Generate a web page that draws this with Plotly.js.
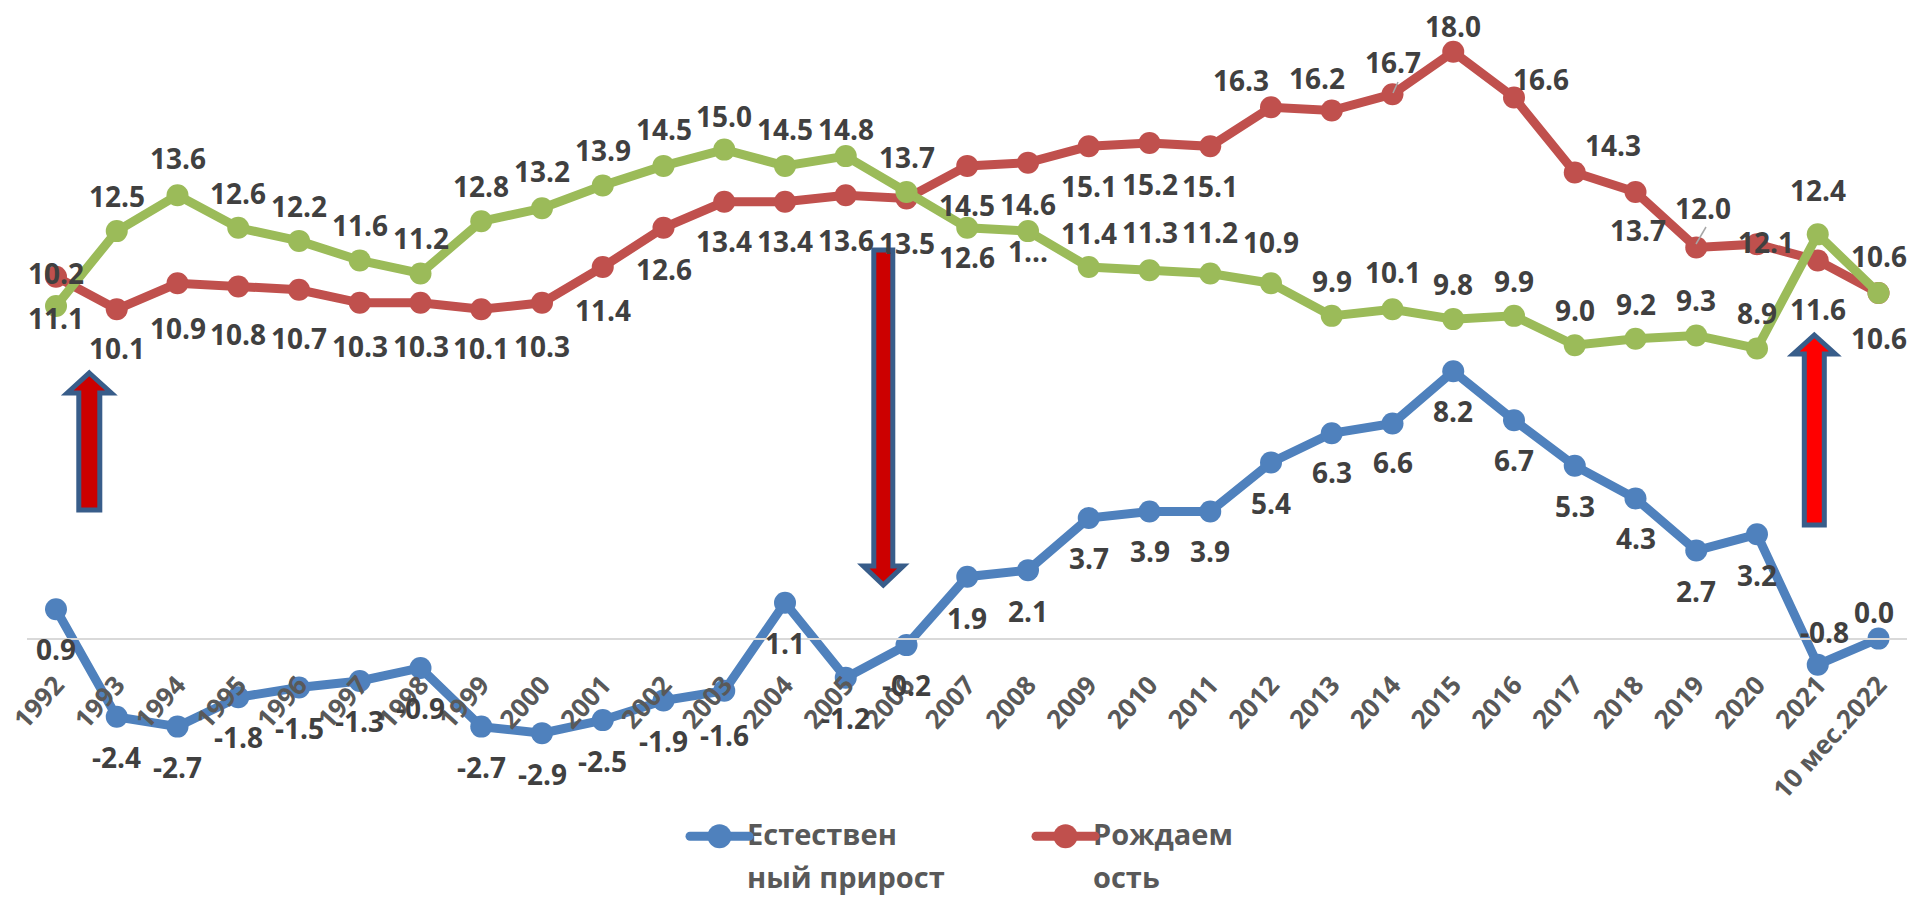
<!DOCTYPE html>
<html><head><meta charset="utf-8">
<script src="https://cdn.plot.ly/plotly-3.0.1.min.js"></script>
<style>html,body{margin:0;padding:0;background:#fff}#c{width:1911px;height:899px}</style>
</head><body><div id="c"></div>
<script>
const categories=['1992','1993','1994','1995','1996','1997','1998','1999','2000','2001','2002','2003','2004','2005','2006','2007','2008','2009','2010','2011','2012','2013','2014','2015','2016','2017','2018','2019','2020','2021','10 мес.2022'];
const increase=[0.9,-2.4,-2.7,-1.8,-1.5,-1.3,-0.9,-2.7,-2.9,-2.5,-1.9,-1.6,1.1,-1.2,-0.2,1.9,2.1,3.7,3.9,3.9,5.4,6.3,6.6,8.2,6.7,5.3,4.3,2.7,3.2,-0.8,0.0];
const births=[11.1,10.1,10.9,10.8,10.7,10.3,10.3,10.1,10.3,11.4,12.6,13.4,13.4,13.6,13.5,14.5,14.6,15.1,15.2,15.1,16.3,16.2,16.7,18.0,16.6,14.3,13.7,12.0,12.1,11.6,10.6];
const deaths=[10.2,12.5,13.6,12.6,12.2,11.6,11.2,12.8,13.2,13.9,14.5,15.0,14.5,14.8,13.7,12.6,12.5,11.4,11.3,11.2,10.9,9.9,10.1,9.8,9.9,9.0,9.2,9.3,8.9,12.4,10.6];
const birthLabels=births.map(v=>v.toFixed(1)); birthLabels[0]='10.2';
const deathLabels=deaths.map(v=>v.toFixed(1)); deathLabels[0]='11.1'; deathLabels[16]='1...';
const increaseLabels=increase.map(v=>v.toFixed(1));
const seriesNames=['Естествен<br>ный прирост','Рождаем<br>ость','Смертность'];

// label offsets from their markers, in pixels (down and right are positive)
const birthDy=[-4,39,45,47,48,43,43,39,43,43,41,39,39,45,44,39,41,40,41,40,-27,-32,-32,-26,-18,-27,38,-39,-2,49,45];
const birthDx=[0,0,0,0,0,0,0,0,0,0,0,0,0,0,0,0,0,0,0,0,-30,-15,0,0,27,38,2,7,9,0,0];
const deathDy=[12,-35,-37,-35,-35,-35,-35,-35,-37,-35,-37,-34,-37,-27,-35,29,20,-34,-38,-41,-41,-35,-37,-35,-35,-35,-35,-35,-35,-44,-37];
const increaseDy=[40,40,40,40,40,40,40,40,41,41,40,44,40,40,40,41,41,40,40,40,40,39,39,40,40,40,40,40,41,-33,-27];
const increaseDx=[0,0,0,0,0,0,0,0,0,0,0,0,0,0,0,0,0,0,0,0,0,0,0,0,0,0,0,0,0,7,-5];

// frame of the plot on the page
const W=1911,H=899,mL=27,mR=4;
const x0Px=56,stepPx=60.75,zeroPx=638.6,unitPx=32.6;
const yTop=zeroPx/unitPx, yBot=-(H-zeroPx)/unitPx;
const xLo=(mL-x0Px)/stepPx, xHi=(W-mR-x0Px)/stepPx;
const fx=p=>(p-mL)/(W-mL-mR), fy=p=>1-p/H;

const FONT='"Open Sans", "Noto Sans", sans-serif';
function series(y,name,color,legend){
  return {type:'scatter',mode:'lines+markers',x:categories,y:y,name:name,showlegend:legend,cliponaxis:false,
    line:{color:color,width:9,shape:'linear'},marker:{color:color,size:22},hoverinfo:'x+y'};
}
const traces=[
  series(increase,seriesNames[0],'#4F81BD',true),
  series(births,seriesNames[1],'#C0504D',true),
  series(deaths,seriesNames[2],'#9BBB59',false)
];
function labels(vals,texts,dy,dx){
  return vals.map((v,i)=>({x:i,y:v,xref:'x',yref:'y',text:texts[i],showarrow:false,
    xanchor:'center',yanchor:'middle',xshift:dx?dx[i]:0,yshift:-dy[i],
    font:{family:FONT,size:28,color:'#404040',weight:700}}));
}
function poly(pts,fill){
  return {type:'shape',xref:'paper',yref:'paper',layer:'above',
    path:'M'+pts.map(p=>fx(p[0])+','+fy(p[1])).join('L')+'Z',
    fillcolor:fill,line:{color:'#385D8A',width:5}};
}
function upArrow(c,tip,base,hw,sw,bot,fill){return poly([[c,tip],[c+hw,base],[c+sw,base],[c+sw,bot],[c-sw,bot],[c-sw,base],[c-hw,base]],fill);}
function downArrow(c,top,base,tip,hw,sw,fill){return poly([[c-sw,top],[c+sw,top],[c+sw,base],[c+hw,base],[c,tip],[c-hw,base],[c-sw,base]],fill);}
function leader(a,b,c,d){return {type:'line',xref:'paper',yref:'paper',x0:fx(a),y0:fy(b),x1:fx(c),y1:fy(d),line:{color:'#A6A6A6',width:1.5}};}

const layout={
  width:W,height:H,margin:{l:mL,r:mR,t:0,b:0},paper_bgcolor:'#fff',plot_bgcolor:'#fff',
  font:{family:FONT},
  xaxis:{type:'category',categoryorder:'array',categoryarray:categories,range:[xLo,xHi],anchor:'free',
    position:(0-yBot)/(yTop-yBot),tickangle:-48,showgrid:false,zeroline:false,showline:true,linecolor:'#D9D9D9',linewidth:1.5,
    ticks:'',ticklabelstandoff:20,tickfont:{family:FONT,size:26,color:'#595959',weight:700},automargin:false},
  yaxis:{range:[yBot,yTop],visible:false,showgrid:false,zeroline:false,fixedrange:true},
  legend:{orientation:'h',x:fx(685),y:fy(792),xanchor:'left',yanchor:'top',itemwidth:59,entrywidth:272,entrywidthmode:'pixels',
    tracegroupgap:0,bgcolor:'rgba(0,0,0,0)',font:{family:FONT,size:29,color:'#595959',weight:700}},
  annotations:[].concat(labels(increase,increaseLabels,increaseDy,increaseDx),labels(births,birthLabels,birthDy,birthDx),labels(deaths,deathLabels,deathDy)),
  shapes:[
    upArrow(89.3,373,393,22,10.5,510,'#CC0000'),
    downArrow(883.3,250,566,585,20,9.5,'#CC0000'),
    upArrow(1814.3,335,354,21,10,525,'#FF0000'),
    leader(1393,93,1398,82),
    leader(1696,244,1706,227)
  ]
};
Plotly.newPlot('c',traces,layout,{displayModeBar:false,responsive:false}).then(gd=>{
  // legend details the library does not expose: wider line spacing, larger swatch
  gd.querySelectorAll('.legend .scrollbox').forEach(s=>s.removeAttribute('clip-path'));
  gd.querySelectorAll('.legend .legendtext').forEach(t=>{
    const ls=t.querySelectorAll('tspan.line');
    if(ls.length>1){ls[1].setAttribute('dy','0');ls[1].setAttribute('y',String(36));}
    t.setAttribute('transform',(t.getAttribute('transform')||'')+' translate(-7,16)');
  });
  gd.querySelectorAll('.legend .legendlines path').forEach(p=>{p.style.strokeWidth='9px';p.style.strokeLinecap='round';});
  gd.querySelectorAll('.legend .legendpoints path').forEach(p=>{p.setAttribute('transform',(p.getAttribute('transform')||'')+' scale(1.5)');});
});
</script></body></html>
